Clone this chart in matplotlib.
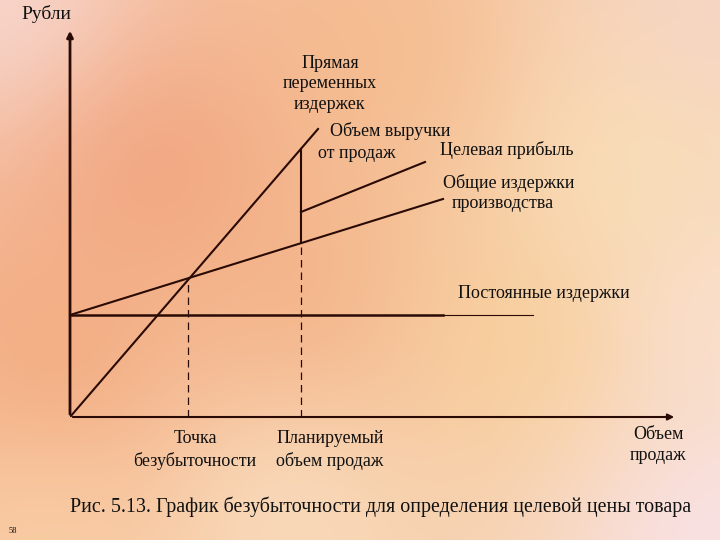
import numpy as np
import matplotlib
matplotlib.use("Agg")
import matplotlib.pyplot as plt

plt.rcParams["font.family"] = ["Liberation Serif", "DejaVu Serif"]

# chart values (units: 1 unit = 10 px of the original drawing)
fixed_costs = 10.2
x_max, y_max = 60.7, 38.9
revenue_x = [0, 24.8]
revenue_y = [0, 28.8]
total_cost_x = [0, 37.3]
total_cost_y = [10.2, 21.8]
fixed_x = [0, 37.3, 46.3]
breakeven = (11.8, 13.9)
planned_x = 23.1
planned_rev = 26.8
planned_cost = 17.4
profit_x = [23.1, 35.5]
profit_y = [20.5, 25.5]

W, H = 720, 540
fig = plt.figure(figsize=(7.2, 5.4), dpi=100)

# background gradient
bg = fig.add_axes([0, 0, 1, 1])
pts = np.array([[0, 0], [160, 170], [60, 360], [380, 60], [620, 170], [520, 340],
                [710, 530], [40, 530], [710, 10], [300, 300], [280, 500], [710, 330]])
cols = np.array([[248, 218, 212], [240, 158, 120], [242, 166, 122], [245, 186, 140],
                 [250, 226, 184], [248, 206, 148], [248, 228, 238], [250, 208, 168],
                 [246, 214, 200], [243, 176, 132], [250, 226, 196], [250, 226, 212]]) / 255
yy, xx = np.mgrid[0:H:4, 0:W:4]
d = (xx[..., None] - pts[:, 0]) ** 2 + (yy[..., None] - pts[:, 1]) ** 2 + 12000
w = 1 / d ** 1.4
img = (w[..., None] * cols).sum(axis=2) / w.sum(axis=2)[..., None]
bg.imshow(img, extent=[0, W, H, 0], aspect="auto", interpolation="bilinear")
bg.set_xlim(0, W)
bg.set_ylim(H, 0)
bg.axis("off")

ax = fig.add_axes([70 / W, (H - 417) / H, 607 / W, 389 / H])
ax.set_xlim(0, x_max)
ax.set_ylim(0, y_max)
ax.axis("off")
ax.patch.set_alpha(0)

lc = "#2a0a05"
# axes with arrows
ax.annotate("", xy=(x_max, 0), xytext=(0, 0),
            arrowprops=dict(arrowstyle="-|>", lw=1.5, color=lc, mutation_scale=9))
ax.annotate("", xy=(0, y_max), xytext=(0, 0),
            arrowprops=dict(arrowstyle="-|>", lw=2, color=lc, mutation_scale=9))

ax.plot(revenue_x, revenue_y, color=lc, lw=1.5)
ax.plot(total_cost_x, total_cost_y, color=lc, lw=1.5)
ax.plot(fixed_x[:2], [fixed_costs] * 2, color=lc, lw=1.8)
ax.plot(fixed_x[1:], [fixed_costs] * 2, color=lc, lw=0.8)
ax.plot(profit_x, profit_y, color=lc, lw=1.5)
ax.plot([planned_x, planned_x], [planned_cost, planned_rev], color=lc, lw=1.5)
ax.plot([breakeven[0]] * 2, [0, breakeven[1]], color=lc, lw=0.9, dashes=(6, 4))
ax.plot([planned_x] * 2, [0, planned_cost], color=lc, lw=0.9, dashes=(6, 4))

fs = 13
def t(x, y, s, ha="center", size=fs):
    fig.text(x / W, 1 - y / H, s, ha=ha, va="center", fontsize=size, color="#111111",
             linespacing=1.3)

t(46, 14, "Рубли", size=14)
t(330, 84, "Прямая\nпеременных\nиздержек")
t(330, 131, "Объем выручки", ha="left")
t(318, 153, "от продаж", ha="left")
t(440, 150, "Целевая прибыль", ha="left")
t(443, 183, "Общие издержки", ha="left")
t(452, 204, "производства", ha="left")
t(458, 294, "Постоянные издержки", ha="left")
t(195, 450, "Точка\nбезубыточности")
t(330, 450, "Планируемый\nобъем продаж")
t(658, 445, "Объем\nпродаж")
t(381, 507, "Рис. 5.13. График безубыточности для определения целевой цены товара", size=14.4)
t(13, 531, "58", size=6)

fig.savefig("out.png", dpi=100)
